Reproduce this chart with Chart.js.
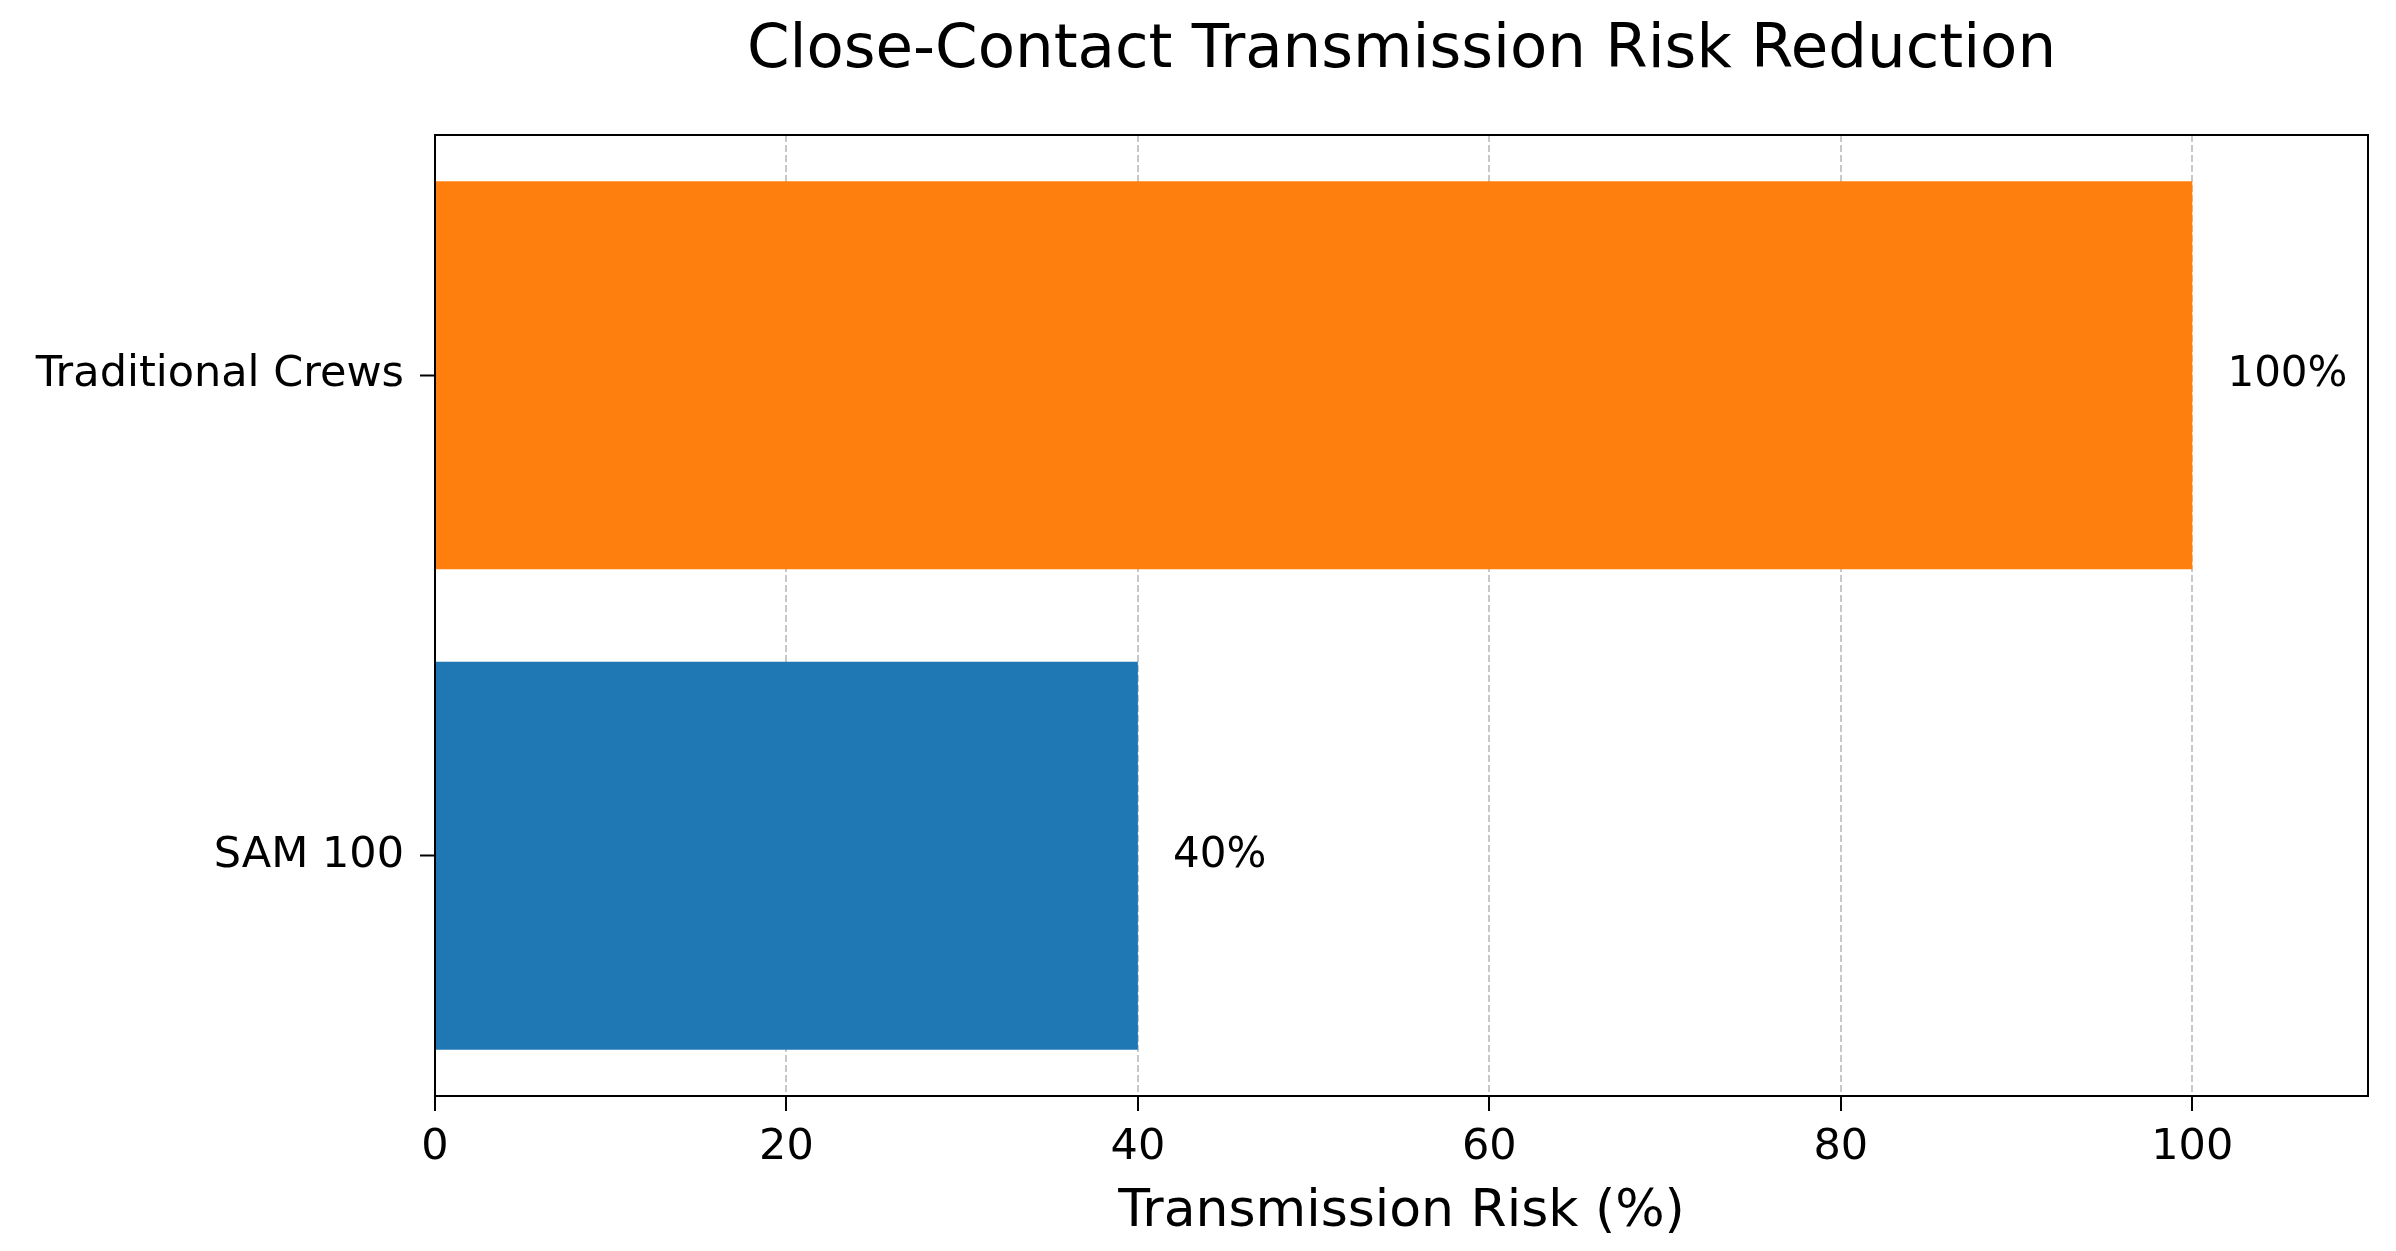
<!DOCTYPE html>
<html>
<head>
<meta charset="utf-8">
<script src="https://cdn.jsdelivr.net/npm/chart.js@4"></script>
<style>
  html, body { margin: 0; padding: 0; background: #fff; }
  #wrap { width: 2396px; height: 1251px; }
</style>
</head>
<body>
<div id="wrap"><canvas id="chartRiesgo" width="2396" height="1251"></canvas></div>
<script>
const categorias = ['Traditional Crews', 'SAM 100'];
const riesgo = [100, 40];
const colores = ['#ff7f0e', '#1f77b4'];
const ticksX = [0, 20, 40, 60, 80, 100];
const titulo = 'Close-Contact Transmission Risk Reduction';

const FUENTE = 'DejaVu Sans';

// titulo centrado sobre el area del grafico (como matplotlib)
const tituloArea = {
    id: 'tituloArea',
    afterDraw(chart) {
        const { ctx, chartArea: a } = chart;
        ctx.save();
        ctx.font = `61px "${FUENTE}"`;
        ctx.fillStyle = '#000';
        ctx.textAlign = 'center';
        ctx.textBaseline = 'middle';
        ctx.fillText(titulo, (a.left + a.right) / 2, a.top - 84);
        ctx.restore();
    }
};

// marco completo alrededor del area del grafico
const marco = {
    id: 'marco',
    afterDraw(chart) {
        const { ctx, chartArea: a } = chart;
        ctx.save();
        ctx.strokeStyle = '#000';
        ctx.lineWidth = 2;
        ctx.strokeRect(a.left, a.top, a.right - a.left, a.bottom - a.top);
        ctx.restore();
    }
};

// etiquetas de valor al final de cada barra
const etiquetas = {
    id: 'etiquetas',
    afterDatasetsDraw(chart) {
        const { ctx } = chart;
        const meta = chart.getDatasetMeta(0);
        const x = chart.scales.x;
        ctx.save();
        ctx.font = `42px "${FUENTE}"`;
        ctx.fillStyle = '#000';
        ctx.textAlign = 'left';
        ctx.textBaseline = 'middle';
        meta.data.forEach((bar, i) => {
            const v = riesgo[i];
            ctx.fillText(`${v}%`, x.getPixelForValue(v + 2), bar.y);
        });
        ctx.restore();
    }
};

const ctx = document.getElementById('chartRiesgo').getContext('2d');

new Chart(ctx, {
    type: 'bar',
    data: {
        labels: categorias,
        datasets: [{
            data: riesgo,
            backgroundColor: colores,
            borderWidth: 0,
            barPercentage: 0.807,
            categoryPercentage: 1
        }]
    },
    options: {
        indexAxis: 'y',
        responsive: false,
        animation: false,
        layout: { padding: { left: 0, right: 28, top: 135, bottom: 0 } },
        plugins: {
            legend: { display: false },
            tooltip: { enabled: false },
            title: { display: false }
        },
        scales: {
            x: {
                min: 0,
                max: 110,
                z: 1,
                afterBuildTicks: s => { s.ticks = ticksX.map(v => ({ value: v })); },
                afterFit: s => { s.height = 155; },
                ticks: {
                    color: '#000',
                    padding: 11,
                    font: { family: FUENTE, size: 43 }
                },
                grid: {
                    color: 'rgba(176,176,176,0.7)',
                    lineWidth: 2,
                    tickColor: '#000',
                    tickWidth: 2,
                    tickLength: 15
                },
                border: { display: true, color: '#000', width: 2, dash: [7, 3] },
                title: {
                    display: true,
                    text: 'Transmission Risk (%)',
                    color: '#000',
                    font: { family: FUENTE, size: 52 },
                    padding: { top: 7, bottom: 7 }
                }
            },
            y: {
                afterFit: s => { s.width = 435; },
                ticks: {
                    color: '#000',
                    padding: 16,
                    font: { family: FUENTE, size: 43 }
                },
                grid: {
                    offset: false,
                    drawOnChartArea: false,
                    tickColor: '#000',
                    tickWidth: 2,
                    tickLength: 15
                },
                border: { display: true, color: '#000', width: 2 }
            }
        }
    },
    plugins: [marco, etiquetas, tituloArea]
});
</script>
</body>
</html>
